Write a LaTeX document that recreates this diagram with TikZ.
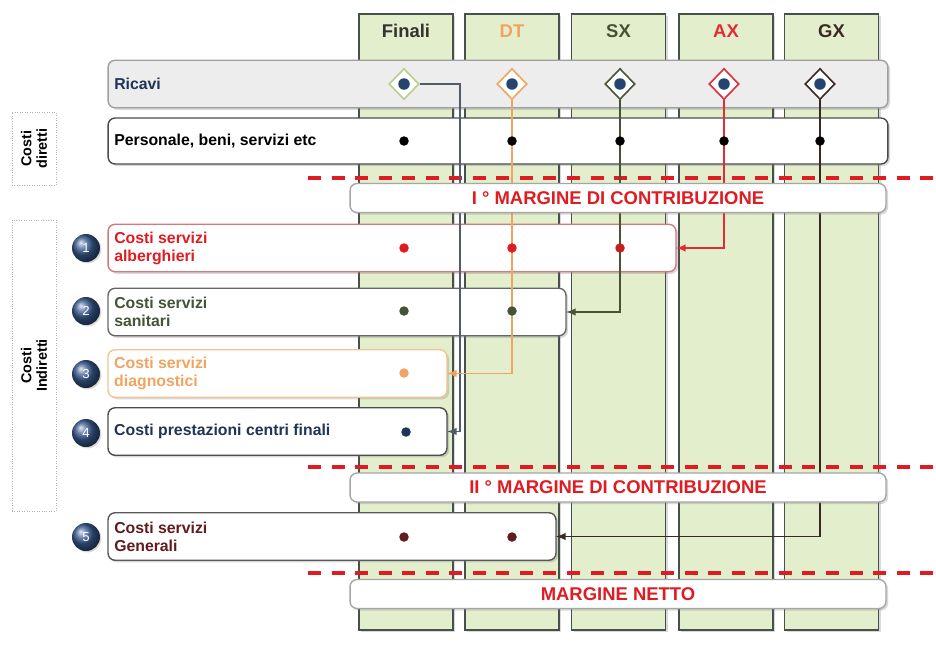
\documentclass[tikz,border=0pt]{standalone}
\usepackage{fontspec}
\setmainfont{Liberation Sans}
\usetikzlibrary{shadows,shapes.geometric}
\definecolor{colfill}{RGB}{227,238,205}
\definecolor{colline}{RGB}{72,80,74}
\definecolor{cnavy}{RGB}{30,52,88}
\definecolor{cball}{RGB}{58,92,145}
\definecolor{mred}{RGB}{222,28,34}
\definecolor{dtorange}{RGB}{240,164,96}
\definecolor{sxgreen}{RGB}{68,84,52}
\definecolor{axred}{RGB}{226,44,52}
\definecolor{gxdark}{RGB}{58,40,36}
\definecolor{finslate}{RGB}{78,92,108}
\definecolor{genmaroon}{RGB}{96,28,32}
\definecolor{fingreen}{RGB}{184,208,136}
\definecolor{dotnavy}{RGB}{38,68,112}
\definecolor{albborder}{RGB}{214,120,120}
\definecolor{diagborder}{RGB}{242,196,148}
\definecolor{sxdotred}{RGB}{196,32,32}
\tikzset{
  colbox/.style={draw=colline, line width=0.9pt, fill=colfill, minimum width=1.88cm,
    minimum height=12.32cm, inner sep=0pt, outer sep=0pt,
    drop shadow={shadow xshift=1.2pt, shadow yshift=-1.2pt, opacity=0.3}},
  colhead/.style={font=\fontsize{10.5}{12}\selectfont\bfseries},
  rowbox/.style={draw=#1, line width=0.8pt, fill=white, rounded corners=4pt, inner sep=0pt,
    outer sep=0pt, minimum height=0.95cm,
    drop shadow={shadow xshift=1.2pt, shadow yshift=-1.2pt, opacity=0.3}},
  rowtext/.style={anchor=west, align=left, font=\fontsize{9}{10.2}\selectfont\bfseries},
  margbox/.style={draw=gray!70, line width=0.8pt, fill=white, rounded corners=4pt,
    minimum width=10.72cm, minimum height=0.58cm, inner sep=0pt, outer sep=0pt, text=mred,
    font=\fontsize{10.5}{12}\selectfont\bfseries,
    drop shadow={shadow xshift=1.2pt, shadow yshift=-1.2pt, opacity=0.3}},
  cutline/.style={draw=mred, line width=1.8pt, dash pattern=on 7.4pt off 6pt},
  rowdot/.style={circle, fill=#1, inner sep=0pt, minimum size=0.19cm},
  revmark/.style={diamond, draw=#1, line width=0.9pt, fill=white, inner sep=0pt,
    minimum width=0.6cm, minimum height=0.62cm},
  numball/.style={circle, ball color=cball, text=white, inner sep=0pt, minimum size=0.56cm,
    font=\fontsize{7.5}{9}\selectfont,
    drop shadow={shadow xshift=0.8pt, shadow yshift=-0.8pt, opacity=0.3}},
  sidebox/.style={draw=gray!60, densely dotted, minimum width=0.88cm, inner sep=0pt},
  sidetext/.style={rotate=90, align=center, font=\fontsize{8.2}{8.8}\selectfont\bfseries},
  link/.style={line width=0.9pt, -latex},
}
\begin{document}
\begin{tikzpicture}[x=0.02cm, y=-0.02cm]
\useasboundingbox (0,0) rectangle (936,650);
% columns
\node [colbox] (colF)  at (406,322) {};
\node [colbox] (colDT) at (512,322) {};
\node [colbox] (colSX) at (618.5,322) {};
\node [colbox] (colAX) at (726,322) {};
\node [colbox] (colGX) at (831.5,322) {};
\node [colhead, text=black!80]    at (406,31)   {Finali};
\node [colhead, text=dtorange]    at (512,31)   {DT};
\node [colhead, text=sxgreen]     at (618.5,31) {SX};
\node [colhead, text=axred]       at (726,31)   {AX};
\node [colhead, text=gxdark]      at (831.5,31) {GX};
%
\draw [cutline] (308,178) -- (936,178);
\draw [cutline] (308,467) -- (936,467);
\draw [cutline] (308,573) -- (936,573);
% side labels
\node [sidebox, minimum height=1.46cm] (cdir) at (34,148.5) {};
\node [sidetext] at (cdir) {Costi\\diretti};
\node [sidebox, minimum height=5.82cm] (cind) at (34,365.5) {};
\node [sidetext] at (cind) {Costi\\Indiretti};
% rows
\node [rowbox=gray!75, fill=black!7, minimum width=15.6cm] (ricavi) at (498,84) {};
\node [rowtext, text=cnavy] at (ricavi.west) {Ricavi};
\node [rowbox=black!70, minimum width=15.6cm, minimum height=0.92cm] (pers) at (498,141) {};
\node [rowtext, text=black] at (pers.west) {Personale, beni, servizi etc};
\node [rowbox=albborder, minimum width=11.36cm] (alb) at (392,248) {};
\node [rowtext, text=mred] at (alb.west) {Costi servizi\\alberghieri};
\node [rowbox=black!60, minimum width=9.16cm] (san) at (337,312) {};
\node [rowtext, text=sxgreen] at (san.west) {Costi servizi\\sanitari};
\node [rowbox=diagborder, minimum width=6.78cm] (diag) at (277.5,373.5) {};
\node [rowtext, text=dtorange] at (diag.west) {Costi servizi\\diagnostici};
\node [rowbox=black!70, minimum width=6.78cm] (cfin) at (277.5,431.5) {};
\node [rowtext, text=cnavy] at (cfin.west) {Costi prestazioni centri finali};
\node [rowbox=black!65, minimum width=8.96cm] (gen) at (332,536.5) {};
\node [rowtext, text=genmaroon] at (gen.west) {Costi servizi\\Generali};
% numbers
\node [numball] (n1) at (86,248) {1};
\node [numball] (n2) at (86,311) {2};
\node [numball] (n3) at (86,374) {3};
\node [numball] (n4) at (86,433) {4};
\node [numball] (n5) at (86,537) {5};
% revenue marks
\node [revmark=fingreen] (rvF)  at (404,84) {};
\node [revmark=dtorange] (rvDT) at (512,84) {};
\node [revmark=sxgreen]  (rvSX) at (620,84) {};
\node [revmark=axred]    (rvAX) at (724,84) {};
\node [revmark=gxdark]   (rvGX) at (820,84) {};
\foreach \n in {rvF,rvDT,rvSX,rvAX,rvGX}
  \node [rowdot=dotnavy, minimum size=0.23cm] at (\n) {};
% allocations
\coordinate (fbend) at (460,84);
\draw [link, finslate] (rvF.east) -- (fbend) |- (cfin.east);
\draw [link, dtorange] (rvDT.south) |- (diag.east);
\draw [link, sxgreen]  (rvSX.south) |- (san.east);
\draw [link, axred]    (rvAX.south) |- (alb.east);
\draw [link, gxdark]   (rvGX.south) |- (gen.east);
% dots
\foreach \x in {404,512,620,724,820}
  \node [rowdot=black] at (\x,141) {};
\foreach \x in {404,512}
  \node [rowdot=mred] at (\x,248) {};
\node [rowdot=sxdotred] at (620,248) {};
\foreach \x in {404,512}
  \node [rowdot=sxgreen] at (\x,311) {};
\node [rowdot=dtorange] at (404,373) {};
\node [rowdot=cnavy] at (406,432) {};
\foreach \x in {404,512}
  \node [rowdot=genmaroon] at (\x,537) {};
% margins
\node [margbox] (m1) at (618,198)   {I ° MARGINE DI CONTRIBUZIONE};
\node [margbox] (m2) at (618,487.5) {II ° MARGINE DI CONTRIBUZIONE};
\node [margbox] (m3) at (618,594)   {MARGINE NETTO};
%
\end{tikzpicture}
\end{document}
